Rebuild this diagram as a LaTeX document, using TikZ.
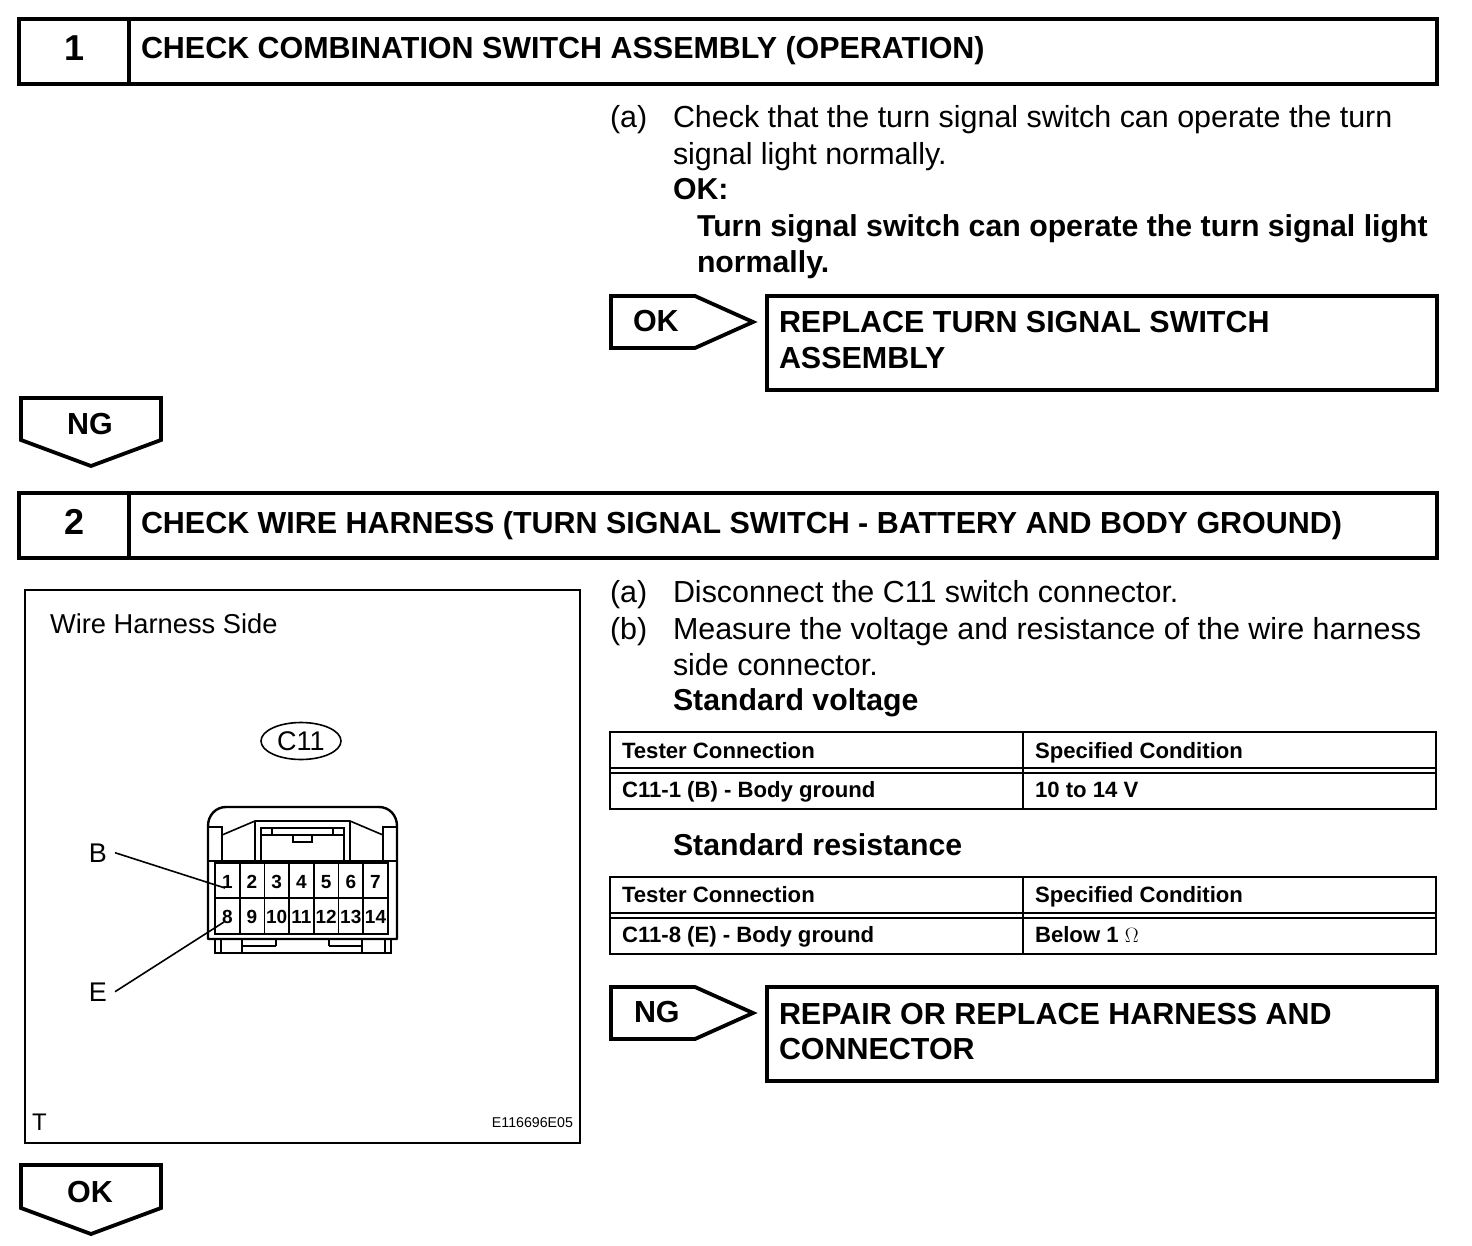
\documentclass[tikz,border=0pt]{standalone}
\usepackage{fontspec}
\setmainfont{Liberation Sans}
\usetikzlibrary{calc,shapes.geometric}
\newcommand{\bodyfont}{\fontsize{30.45}{36}\selectfont}
\newcommand{\headfont}{\fontsize{30.45}{36}\selectfont\bfseries}
\newcommand{\subheadfont}{\fontsize{30.25}{36}\selectfont\bfseries}
\newcommand{\tablefont}{\fontsize{22.15}{28}\selectfont\bfseries}
\tikzset{
  x=1pt,y=-1pt,
  every node/.style={inner sep=0pt,outer sep=0pt},
  heavy/.style={draw=black,line width=3.9pt,line join=miter,fill=white},
  tline/.style={draw=black,line width=2.6pt},
  thin line/.style={draw=black,line width=1.6pt},
  bodytext/.style={anchor=base west,font=\bodyfont},
  headtext/.style={anchor=base west,font=\headfont},
  subhead/.style={anchor=base west,font=\subheadfont},
  tabletext/.style={anchor=base west,font=\tablefont},
  arrowbox/.style={draw=black,line width=3.8pt,line join=miter,fill=white},
}
\begin{document}
\begin{tikzpicture}
\useasboundingbox (0,0) rectangle (1472,1246);
\fill[white] (0,0) rectangle (1472,1246);

% Step 1
\draw[heavy] (19,19) rectangle (1437,84);
\draw[heavy] (129,19) -- (129,84);
\node[anchor=base,font=\fontsize{36}{40}\selectfont\bfseries] (n1) at (75,61) {1};
\node[headtext] (h1) at (141,59) {CHECK COMBINATION SWITCH ASSEMBLY (OPERATION)};
\node[bodytext] (a1) at (610,128) {(a)};
\node[bodytext] (t1) at (673,128) {Check that the turn signal switch can operate the turn};
\node[bodytext] (t2) at (673,165) {signal light normally.};
\node[subhead] (t3) at (673,200) {OK:};
\node[subhead] (t4) at (697,237) {Turn signal switch can operate the turn signal light};
\node[subhead] (t5) at (697,273) {normally.};

\draw[arrowbox] (611,296) -- (695,296) -- (753,322) -- (695,348) -- (611,348) -- cycle;
\node[headtext] (ok1) at (633,332) {OK};
\draw[heavy] (767,296) rectangle (1437,390);
\node[headtext] (r1) at (779,333) {REPLACE TURN SIGNAL SWITCH};
\node[headtext] (r2) at (779,369) {ASSEMBLY};

\draw[arrowbox] (21,398) -- (161,398) -- (161,440) -- (91,466) -- (21,440) -- cycle;
\node[headtext,anchor=base] (ng1) at (90,434) {NG};

% Step 2
\draw[heavy] (19,493) rectangle (1437,558);
\draw[heavy] (129,493) -- (129,558);
\node[anchor=base,font=\fontsize{36}{40}\selectfont\bfseries] (n2) at (75,534) {2};
\node[headtext] (h2) at (141,533) {CHECK WIRE HARNESS (TURN SIGNAL SWITCH - BATTERY AND BODY GROUND)};

% illustration frame
\draw[thin line,line width=2pt] (25,590) rectangle (580,1143);
\node[anchor=base west,font=\fontsize{27.3}{30}\selectfont] (wh) at (50,633) {Wire Harness Side};
\node[draw=black,line width=1.6pt,ellipse,minimum width=80pt,minimum height=37pt,font=\fontsize{27}{30}\selectfont] (c11) at (301,741) {C11};
\node[anchor=base west,font=\fontsize{24}{26}\selectfont] (tt) at (32,1130) {T};
\node[anchor=base east,font=\fontsize{14.2}{16}\selectfont] (code) at (573,1127) {E116696E05};

% connector outline
\draw[line width=2.4pt,line join=round]
  (208,939) -- (208,826) .. controls (208,815) and (216,807) .. (226,807)
  -- (379,807) .. controls (389,807) and (397,815) .. (397,826) -- (397,939) -- cycle;
\draw[line width=2pt] (208,827) -- (222,827) -- (222,861);
\draw[line width=2pt] (397,827) -- (383,827) -- (383,861);
\draw[line width=1.6pt] (222,835) -- (255,821) -- (350,821) -- (383,835);
\draw[line width=1.6pt] (255,821) -- (255,861);
\draw[line width=1.6pt] (350,821) -- (350,861);
\draw[line width=2.4pt] (261,861) -- (261,828) -- (344,828) -- (344,861);
\draw[line width=1.4pt] (261,835) -- (344,835);
\draw[line width=1.2pt] (272,828) -- (272,835) (333,828) -- (333,835);
\draw[line width=1.2pt] (293,835) -- (293,842) -- (312,842) -- (312,835);
\draw[line width=2pt] (208,861) -- (397,861);
% contact grid
\draw[line width=1.8pt,fill=white] (215,863) rectangle (388,934);
\draw[line width=1.8pt] (215,898) -- (388,898);
\foreach \i in {1,...,6} {\draw[line width=1.8pt] ({215+\i*24.7},863) -- ({215+\i*24.7},934);}
\foreach \i in {1,...,7} {
  \node[anchor=base,font=\fontsize{19}{22}\selectfont\bfseries] (p\i) at ({202.6+\i*24.7},888) {\i};
}
\foreach \i/\j in {8/1,9/2,10/3,11/4,12/5,13/6,14/7} {
  \node[anchor=base,font=\fontsize{19}{22}\selectfont\bfseries] (p\i) at ({202.6+\j*24.7},923) {\i};
}
% bottom lug
\draw[line width=2.4pt] (215,939) -- (215,953) -- (391,953) -- (391,939);
\draw[line width=1.4pt] (221,939) -- (221,953) (385,939) -- (385,953);
\draw[line width=1.4pt] (242,939) -- (242,953) (276,939) -- (276,946) (329,939) -- (329,946) (362,939) -- (362,953);
\draw[line width=1.6pt] (242,946) -- (276,946) (329,946) -- (362,946);

\node[anchor=base,font=\fontsize{27}{30}\selectfont] (lb) at (98,862) {B};
\node[anchor=base,font=\fontsize{27}{30}\selectfont] (le) at (98,1001) {E};
\coordinate (bend) at (225,888);
\coordinate (eend) at (224,922);
\draw[line width=1.6pt] (lb.east) ++(8,0) -- (bend);
\draw[line width=1.6pt] (le.east) ++(8,0) -- (eend);

% text of step 2
\node[bodytext] (a2) at (610,602) {(a)};
\node[bodytext] (u1) at (673,602) {Disconnect the C11 switch connector.};
\node[bodytext] (b2) at (610,639) {(b)};
\node[bodytext] (u2) at (673,639) {Measure the voltage and resistance of the wire harness};
\node[bodytext] (u3) at (673,675) {side connector.};
\node[subhead] (u4) at (673,710) {Standard voltage};

% table 1
\draw[tline] (610,732) rectangle (1436,809);
\draw[tline] (1023,732) -- (1023,809);
\draw[tline] (610,768) -- (1436,768);
\draw[line width=1.6pt] (610,773) -- (1436,773);
\node[tabletext] (c1) at (622,758) {Tester Connection};
\node[tabletext] (c2) at (1035,758) {Specified Condition};
\node[tabletext] (c3) at (622,797) {C11-1 (B) - Body ground};
\node[tabletext] (c4) at (1035,797) {10 to 14 V};

\node[subhead] (u5) at (673,855) {Standard resistance};

% table 2
\draw[tline] (610,877) rectangle (1436,954);
\draw[tline] (1023,877) -- (1023,954);
\draw[tline] (610,913) -- (1436,913);
\draw[line width=1.6pt] (610,918) -- (1436,918);
\node[tabletext] (d1) at (622,902) {Tester Connection};
\node[tabletext] (d2) at (1035,902) {Specified Condition};
\node[tabletext] (d3) at (622,942) {C11-8 (E) - Body ground};
\node[tabletext] (d4) at (1035,942) {Below 1 $\Omega$};

\draw[arrowbox] (611,987) -- (695,987) -- (753,1013) -- (695,1039) -- (611,1039) -- cycle;
\node[headtext] (ng2) at (634,1022) {NG};
\draw[heavy] (767,987) rectangle (1437,1081);
\node[headtext] (s1) at (779,1024) {REPAIR OR REPLACE HARNESS AND};
\node[headtext] (s2) at (779,1059) {CONNECTOR};

\draw[arrowbox] (21,1165) -- (161,1165) -- (161,1208) -- (91,1234) -- (21,1208) -- cycle;
\node[headtext,anchor=base] (ok2) at (90,1202) {OK};
\end{tikzpicture}
\end{document}
